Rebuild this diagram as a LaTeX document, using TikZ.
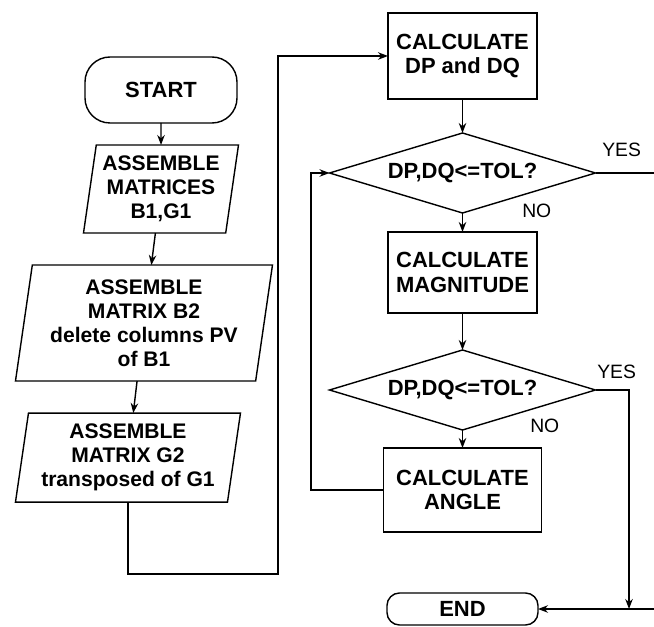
\documentclass[tikz,border=0pt]{standalone}
\usepackage{fontspec}
\setmainfont{Liberation Sans}
\usepackage{tikz}
\usetikzlibrary{arrows.meta,positioning,shapes.geometric}

\begin{document}
\begin{tikzpicture}[
    font=\fontsize{12.5}{13.8}\selectfont,
    line width=0.8pt,
    every node/.style={outer sep=0pt},
    terminal/.style={draw, rounded corners=0.5cm, font=\bfseries\fontsize{12.5}{13.8}\selectfont},
    process/.style={draw, align=center, font=\bfseries\fontsize{12.5}{13.8}\selectfont, minimum width=2.98cm},
    io/.style={draw, trapezium, trapezium left angle=79, trapezium right angle=101, trapezium stretches body, align=center, inner sep=0pt, font=\bfseries\fontsize{12}{13.6}\selectfont},
    decision/.style={draw, diamond, aspect=3.3, inner sep=0pt, minimum width=5.32cm, minimum height=1.6cm, font=\bfseries\fontsize{12.5}{13.8}\selectfont},
    lbl/.style={inner sep=1pt, font=\fontsize{11}{13}\selectfont},
    flow/.style={-{Stealth[length=2mm]}}
]
\useasboundingbox (0,0) rectangle (13.08,-12.54);

% left column
\node[terminal, minimum width=3.04cm, minimum height=1.32cm] (start) at (3.22,-1.8) {START};
\node[io, below=0.44cm of start, minimum width=3.1cm, minimum height=1.76cm] (assemble) {ASSEMBLE\\MATRICES\\B1,G1};
\node[io, below=0.64cm of assemble, xshift=-0.34cm, minimum width=5.14cm, minimum height=2.32cm] (assembleB) {ASSEMBLE\\MATRIX B2\\delete columns PV\\of B1};
\node[io, below=0.64cm of assembleB, xshift=-0.32cm, minimum width=4.5cm, minimum height=1.78cm] (assembleG) {ASSEMBLE\\MATRIX G2\\transposed of G1};

% right column
\node[process, minimum height=1.72cm] (calcdpq) at (9.25,-1.12) {CALCULATE\\DP and DQ};
\node[decision, below=0.68cm of calcdpq] (checktol) {DP,DQ<=TOL?};
\node[process, below=0.38cm of checktol, minimum height=1.62cm] (calcmag) {CALCULATE\\MAGNITUDE};
\node[decision, below=0.74cm of calcmag] (checktolb) {DP,DQ<=TOL?};
\node[process, below=0.36cm of checktolb, minimum width=3.16cm, minimum height=1.68cm] (calcang) {CALCULATE\\ANGLE};
\node[terminal, below=1.22cm of calcang, rounded corners=0.25cm, minimum width=3.02cm, minimum height=0.64cm, inner sep=1pt] (finish) {END};

% labels
\node[lbl, above right=0.3cm and 0.1cm of checktol.east] (yesa) {YES};
\node[lbl, right=1.16cm of checktol.south, yshift=0.04cm] (noa) {NO};
\node[lbl, above right=0.2cm and 0cm of checktolb.east] (yesb) {YES};
\node[lbl, right=1.32cm of checktolb.south, yshift=0.08cm] (nob) {NO};

\coordinate (loopL) at (5.56,-11.48);
\coordinate (backL) at (6.22,-9.8);
\coordinate (joinR) at (12.58,-12.18);
\coordinate (offR) at (13.4,-12.18);

\draw[flow] (start) -- (assemble);
\draw[flow] (assemble) -- (assembleB);
\draw[flow] (assembleB) -- (assembleG);
\draw[flow] (assembleG.south) |- (loopL) |- (calcdpq.west);
\draw[flow] (calcdpq) -- (checktol);
\draw[flow] (checktol) -- (calcmag);
\draw[flow] (calcmag) -- (checktolb);
\draw[flow] (checktolb) -- (calcang);
\draw[flow] (calcang.west) -- (calcang.west -| backL) |- (checktol.west);
\draw[flow] (checktolb.east) -| (joinR |- finish.east);
\draw[flow] (checktol.east) -| (offR |- finish.east) -- (finish.east);
\end{tikzpicture}
\end{document}
